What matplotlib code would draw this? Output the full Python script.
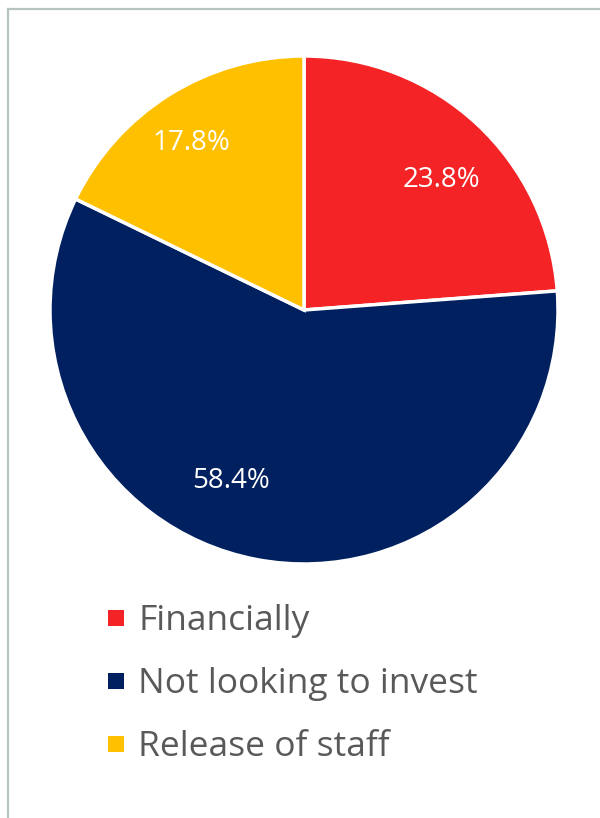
import matplotlib.pyplot as plt
from matplotlib.patches import Rectangle
from matplotlib.lines import Line2D

categories = ["Financially", "Not looking to invest", "Release of staff"]
shares = [23.8, 58.4, 17.8]
colors = ["#F42426", "#00205F", "#FFC000"]
# where the percentage labels sit (in pie radius units)
label_xy = [(0.543, 0.512), (-0.287, -0.673), (-0.445, 0.657)]

plt.rcParams['font.family'] = ['Open Sans', 'DejaVu Sans']

W, H = 600, 818
fig = plt.figure(figsize=(W / 100, H / 100), dpi=100)

# light grey frame on the left and top
fig.add_artist(Line2D([8 / W, 8 / W], [0, 1 - 9 / H], color="#b8c4c2", lw=1.6))
fig.add_artist(Line2D([8 / W, 1], [1 - 9 / H, 1 - 9 / H], color="#b8c4c2", lw=1.6))

# pie axes: centre (304, 310) px, radius 254 px
cx, cy, r = 304, 310, 254
ax = fig.add_axes([(cx - r) / W, 1 - (cy + r) / H, 2 * r / W, 2 * r / H])
wedges, texts, autotexts = ax.pie(
    shares, colors=colors, startangle=90, counterclock=False,
    autopct=lambda p: f"{p:.1f}%", pctdistance=0.76,
    wedgeprops=dict(edgecolor="white", linewidth=2.5),
    textprops=dict(color="white", fontsize=20),
)
for t, pos in zip(autotexts, label_xy):
    t.set_position(pos)
ax.set_xlim(-1, 1)
ax.set_ylim(-1, 1)
ax.set_aspect("equal")

# legend
y0, dy = 621, 63
for i, (name, col) in enumerate(zip(categories, colors)):
    y = y0 + i * dy
    fig.add_artist(Rectangle((108 / W, 1 - (y + 5) / H), 16 / W, 16 / H,
                             facecolor=col, edgecolor="none"))
    fig.text(138 / W, 1 - y / H, name, fontsize=25.5, color="#595959",
             va="center", ha="left")

fig.savefig("out.png", dpi=100)
